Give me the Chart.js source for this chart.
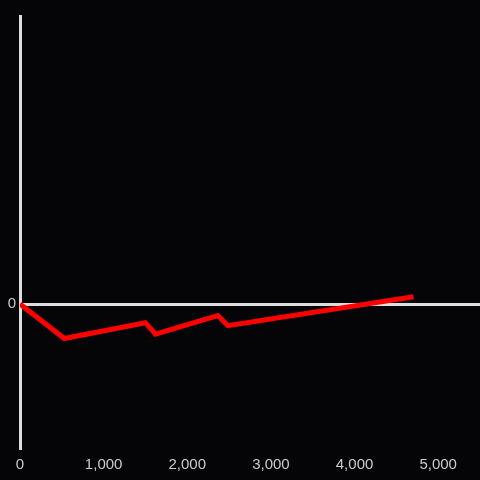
<!DOCTYPE html>
<html>
<head>
<meta charset="utf-8">
<script src="https://cdn.jsdelivr.net/npm/chart.js@4"></script>
<style>
  html, body { margin: 0; padding: 0; background: #050407; }
  #wrap { width: 480px; height: 480px; }
</style>
</head>
<body>
<div id="wrap"><canvas id="chart"></canvas></div>
<script>
// values
const xValues = [0, 530, 1500, 1620, 2365, 2485, 4705];
const yValues = [0, -24, -13, -21, -8, -15, 5];
const xTicks = [0, 1000, 2000, 3000, 4000, 5000];
const yTicks = [0];

const points = xValues.map((x, i) => ({ x: x, y: yValues[i] }));

new Chart(document.getElementById('chart'), {
    type: 'line',
    data: {
        datasets: [{
            data: points,
            borderColor: '#ff0000',
            borderWidth: 5,
            pointRadius: 0,
            tension: 0,
            fill: false
        }]
    },
    options: {
        responsive: true,
        maintainAspectRatio: false,
        animation: false,
        layout: { padding: { top: 16, right: 0, left: 0, bottom: 0 } },
        plugins: { legend: { display: false }, tooltip: { enabled: false } },
        scales: {
            x: {
                type: 'linear',
                min: 0,
                max: 5500,
                afterBuildTicks: axis => { axis.ticks = xTicks.map(v => ({ value: v })); },
                afterFit: axis => { axis.height = 32; },
                grid: { display: false },
                border: { display: false },
                ticks: {
                    color: '#cccccc',
                    font: { family: 'Liberation Sans', size: 15 },
                    padding: 0,
                    maxRotation: 0,
                    callback: v => v.toLocaleString('en-US')
                }
            },
            y: {
                min: -100,
                max: 200,
                afterBuildTicks: axis => { axis.ticks = yTicks.map(v => ({ value: v })); },
                afterFit: axis => { axis.width = 20; },
                grid: { color: '#dddddd', lineWidth: 3, drawTicks: false },
                border: { color: '#dddddd', width: 3 },
                ticks: {
                    color: '#cccccc',
                    font: { family: 'Liberation Sans', size: 15 },
                    padding: 4
                }
            }
        }
    }
});
</script>
</body>
</html>
